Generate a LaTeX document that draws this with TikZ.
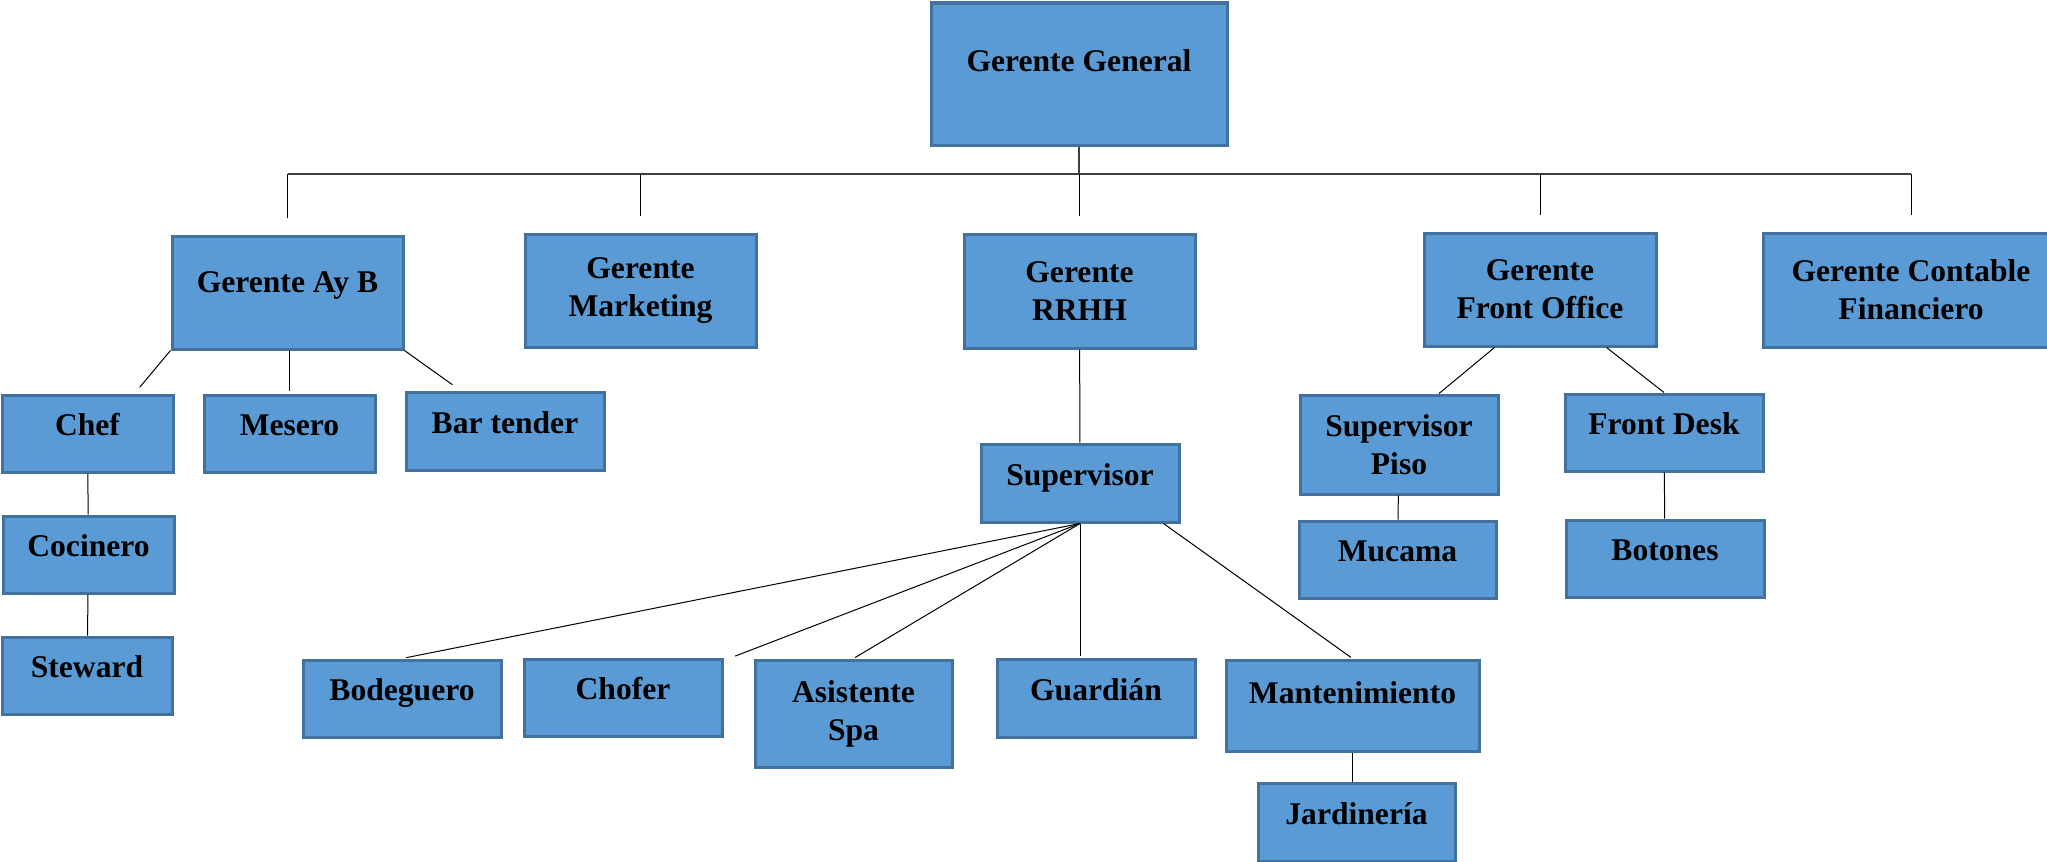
\documentclass[tikz,border=0pt]{standalone}
\usepackage{fontspec}
\setmainfont{Liberation Serif}
\definecolor{cajafill}{HTML}{5B9BD5}
\definecolor{cajaborde}{HTML}{41719C}

\begin{document}
\begin{tikzpicture}[
        x=0.5pt, y=-0.5pt,
        every node/.style={rectangle, draw=cajaborde, fill=cajafill, line width=1.5pt,
            inner sep=0pt, font=\bfseries\fontsize{15.8}{19}\selectfont},
        una/.style={text height=11pt, text depth=8.7pt},
        dos/.style={align=center},
        linea/.style={black, line width=0.5pt},
        barra/.style={black!75, line width=1pt}
    ]
        \useasboundingbox (0,0) rectangle (2047,862);

        % Gerencia general y gerentes
        \node[una, minimum width=148pt, minimum height=71pt, text depth=13.7pt] (gg) at (1079,74) {Gerente General};
        \node[una, minimum width=115.5pt, minimum height=56.5pt, text depth=10.7pt] (ayb) at (287.5,292.5) {Gerente Ay B};
        \node[dos, minimum width=115.5pt, minimum height=56.5pt] (mkt) at (640.5,290.5) {Gerente\\Marketing};
        \node[dos, minimum width=115.5pt, minimum height=57pt] (rrhh) at (1079.5,291) {Gerente\\RRHH};
        \node[dos, minimum width=116pt, minimum height=56.5pt] (fo) at (1540,289.5) {Gerente\\Front Office};
        \node[dos, minimum width=148pt, minimum height=57pt] (cont) at (1911,290) {Gerente Contable\\Financiero};

        % Alimentos y bebidas
        \node[una, minimum width=85.5pt, minimum height=38.5pt] (chef) at (87.5,433.5) {Chef};
        \node[una, minimum width=85.5pt, minimum height=38.5pt] (mesero) at (289.5,433.5) {Mesero};
        \node[una, minimum width=99pt, minimum height=39pt] (bar) at (505,431) {Bar tender};
        \node[una, minimum width=85.5pt, minimum height=38.5pt] (cocinero) at (88.5,554.5) {Cocinero};
        \node[una, minimum width=85pt, minimum height=38.5pt] (steward) at (87,675.5) {Steward};

        % Recursos humanos
        \node[una, minimum width=99pt, minimum height=39pt] (sup) at (1080,483) {Supervisor};
        \node[una, minimum width=99pt, minimum height=38.5pt] (bodeguero) at (402,698.5) {Bodeguero};
        \node[una, minimum width=99pt, minimum height=38.5pt] (chofer) at (623,697.5) {Chofer};
        \node[dos, minimum width=98.5pt, minimum height=53.5pt] (asist) at (853.5,713.5) {Asistente\\Spa};
        \node[una, minimum width=99pt, minimum height=39pt] (guardian) at (1096,698) {Guardián};
        \node[una, minimum width=126.5pt, minimum height=45.5pt, text depth=12.7pt] (mant) at (1352.5,705.5) {Mantenimiento};
        \node[una, minimum width=98.5pt, minimum height=39pt] (jard) at (1356.5,822) {Jardinería};

        % Front office
        \node[dos, minimum width=99pt, minimum height=49.5pt] (suppiso) at (1399,444.5) {Supervisor\\Piso};
        \node[una, minimum width=99pt, minimum height=38.5pt] (fdesk) at (1664,432.5) {Front Desk};
        \node[una, minimum width=98.5pt, minimum height=38.5pt] (mucama) at (1397.5,559.5) {Mucama};
        \node[una, minimum width=99pt, minimum height=38.5pt] (botones) at (1665,558.5) {Botones};

        % Lineas de mando
        \coordinate (bus) at (1079,174);
        \draw[barra] (gg.south) -- (bus);
        \draw[barra] (ayb.north |- bus) -- (cont.north |- bus);
        \foreach \n in {ayb,mkt,rrhh,fo,cont}
            \draw[linea, shorten >=8.5pt] (\n.north |- bus) -- (\n.north);

        \draw[linea, shorten >=4pt] (ayb.south west) -- ([xshift=-20pt]chef.north east);
        \draw[linea, shorten >=1.5pt] (ayb.south -| mesero.north) -- (mesero.north);
        \draw[linea, shorten >=5pt] (ayb.south east) -- ([xshift=28pt]bar.north west);
        \draw[linea] (chef) -- (cocinero);
        \draw[linea] (cocinero) -- (steward);

        \draw[linea] (rrhh) -- (sup);
        \draw[linea, shorten >=2pt] (sup.south) -- (bodeguero.north);
        \draw[linea, shorten >=2pt] (sup.south) -- ([xshift=4pt]chofer.north east);
        \draw[linea, shorten >=1pt] (sup.south) -- (asist.north);
        \draw[linea, shorten >=1pt] (sup.south) -- (sup.south |- guardian.north);
        \draw[linea, shorten >=1pt] ([xshift=-8.5pt]sup.south east) -- (mant.north);
        \draw[linea] (mant.south) -- (mant.south |- jard.north);

        \draw[linea] ([xshift=36pt]fo.south west) -- ([xshift=20pt]suppiso.north);
        \draw[linea] ([xshift=-25.5pt]fo.south east) -- (fdesk.north);
        \draw[linea] (suppiso) -- (mucama);
        \draw[linea] (fdesk) -- (botones);
    \end{tikzpicture}
\end{document}
